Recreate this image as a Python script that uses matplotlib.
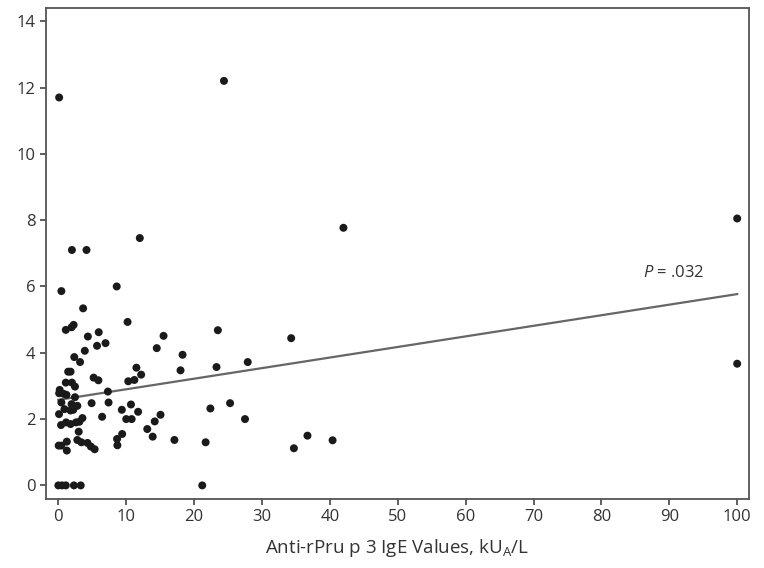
import numpy as np
import matplotlib.pyplot as plt

plt.rcParams['font.family'] = ['Open Sans', 'DejaVu Sans']
plt.rcParams['mathtext.fontset'] = 'custom'
plt.rcParams['mathtext.rm'] = 'Open Sans'
plt.rcParams['mathtext.it'] = 'Open Sans:italic'

# anti-rPru p 3 IgE values (kU_A/L) and y values
ige_x = [0.12, 24.4, 100, 100, 42.0, 12.0, 2.0, 4.15, 8.6, 0.45, 3.65,
         1.1, 1.95, 2.25, 10.2, 4.35, 5.95, 5.7, 6.95, 3.9, 15.5, 14.5, 23.5, 34.3,
         2.35, 3.2, 18.3, 18.0, 23.3, 27.9, 11.5, 12.2, 11.2, 10.3, 5.2, 5.9,
         1.45, 1.8, 1.1, 2.0, 2.45,
         7.3, 0.2, 0.12, 1.2, 0.8, 2.45, 0.45, 1.95, 2.8, 0.9, 2.2, 0.1, 1.8,
         4.9, 7.4, 9.35, 10.7, 11.75, 6.45, 10.0, 10.8, 15.05, 22.4, 25.3, 27.5, 3.55,
         0.4, 1.15, 1.8, 2.6, 3.1, 3.0, 2.8, 3.4, 4.3, 4.8, 5.35, 0.05, 0.45,
         1.25, 1.25, 9.4, 8.65, 8.7, 13.1, 13.9, 14.2, 17.1, 21.7, 36.7, 34.7, 40.4,
         0.0, 0.55, 1.1, 2.3, 3.3, 21.2]
val_y = [11.7, 12.2, 8.05, 3.67, 7.77, 7.46, 7.1, 7.1, 6.0, 5.86, 5.34,
         4.69, 4.77, 4.84, 4.93, 4.49, 4.62, 4.21, 4.29, 4.06, 4.51, 4.14, 4.68, 4.44,
         3.87, 3.72, 3.94, 3.47, 3.57, 3.72, 3.55, 3.34, 3.18, 3.14, 3.25, 3.17,
         3.43, 3.43, 3.1, 3.1, 2.98,
         2.83, 2.88, 2.78, 2.73, 2.76, 2.66, 2.5, 2.45, 2.4, 2.3, 2.28, 2.15, 2.26,
         2.48, 2.5, 2.28, 2.44, 2.22, 2.07, 2.0, 2.0, 2.13, 2.32, 2.48, 2.0, 2.03,
         1.82, 1.9, 1.85, 1.9, 1.92, 1.62, 1.37, 1.3, 1.28, 1.17, 1.09, 1.2, 1.2,
         1.32, 1.05, 1.55, 1.4, 1.21, 1.7, 1.47, 1.93, 1.37, 1.3, 1.5, 1.12, 1.36,
         0, 0, 0, 0, 0, 0]

# regression line end points
fit_x = [0, 100]
fit_y = [2.58, 5.77]

fig = plt.figure(figsize=(7.64, 5.68), dpi=100)
ax = fig.add_axes([0.060, 0.1215, 0.920, 0.8645])

ax.scatter(ige_x, val_y, s=33, c='#1a1a1a', edgecolors='none', zorder=3)
ax.plot(fit_x, fit_y, color='#666666', lw=1.6, zorder=2)
ax.text(86.1, 6.42, r'$\it{P}$ = .032', fontsize=12, color='#333333', va='center', ha='left')

ax.set_xlim(-1.84, 101.7)
ax.set_ylim(-0.41, 14.4)
ax.set_xticks(np.arange(0, 101, 10))
ax.set_yticks(np.arange(0, 15, 2))
ax.tick_params(direction='out', length=4, width=1.2, color='#444444',
               labelsize=12, labelcolor='#333333')
for sp in ax.spines.values():
    sp.set_color('#555555')
    sp.set_linewidth(1.3)

ax.set_xlabel(r'Anti-rPru p 3 IgE Values, kU$_\mathrm{A}$/L', fontsize=13.5,
              color='#333333', labelpad=8)

plt.savefig('out.png', dpi=100)
